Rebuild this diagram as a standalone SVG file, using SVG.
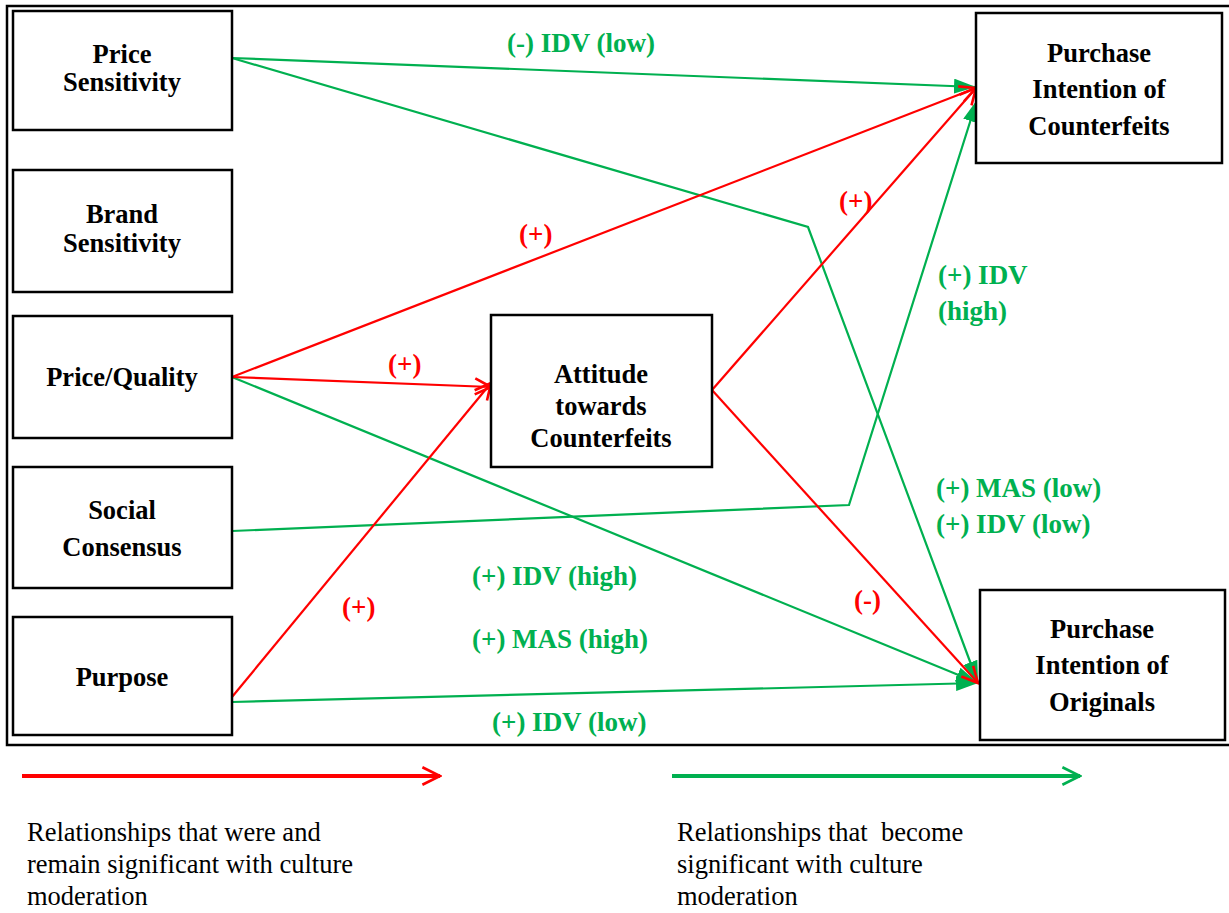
<svg xmlns="http://www.w3.org/2000/svg" width="1229" height="913" viewBox="0 0 1229 913">
<style>
.box{fill:#fff;stroke:#000;stroke-width:2.5}
.nt{font-family:"Liberation Serif","Times New Roman",serif;font-weight:bold;font-size:26.5px;fill:#000;text-anchor:middle}
.g{fill:none;stroke:#00B050;stroke-width:2.2}
.r{fill:none;stroke:#FF0000;stroke-width:2.2}
.gl{font-family:"Liberation Serif","Times New Roman",serif;font-weight:bold;font-size:27px;fill:#00B050}
.rl{font-family:"Liberation Serif","Times New Roman",serif;font-weight:bold;font-size:27px;fill:#FF0000}
.lg{font-family:"Liberation Serif","Times New Roman",serif;font-size:26.5px;fill:#000;white-space:pre}
</style>
<defs>
<marker id="ag" viewBox="0 0 22 15" refX="22" refY="7.5" markerWidth="22" markerHeight="15" markerUnits="userSpaceOnUse" orient="auto">
<path d="M0,0 L22,7.5 L0,15 z" fill="#00B050"/>
</marker>
<marker id="ar" viewBox="0 0 10 10" refX="9" refY="5" markerWidth="20" markerHeight="20" markerUnits="userSpaceOnUse" orient="auto">
<path d="M1,1 L9,5 L1,9" fill="none" stroke="#FF0000" stroke-width="1.3"/>
</marker>
<marker id="al" viewBox="0 0 10 10" refX="9" refY="5" markerWidth="22" markerHeight="22" markerUnits="userSpaceOnUse" orient="auto">
<path d="M1,1 L9,5 L1,9" fill="none" stroke="#FF0000" stroke-width="1.2"/>
</marker>
<marker id="alg" viewBox="0 0 10 10" refX="9" refY="5" markerWidth="22" markerHeight="22" markerUnits="userSpaceOnUse" orient="auto">
<path d="M1,1 L9,5 L1,9" fill="none" stroke="#00B050" stroke-width="1.2"/>
</marker>
</defs>
<rect x="7" y="6" width="1230" height="739" fill="#fff" stroke="#000" stroke-width="2.5"/>
<g id="connectors">
<polyline class="g" points="232,58 976,87" marker-end="url(#ag)"/>
<polyline class="g" points="232,58 808,227 978,683" marker-end="url(#ag)"/>
<polyline class="g" points="232,377 978,683" marker-end="url(#ag)"/>
<polyline class="g" points="232,531 849,505 977,100" marker-end="url(#ag)"/>
<polyline class="g" points="232,702 978,683" marker-end="url(#ag)"/>
<polyline class="r" points="232,377 976,88" marker-end="url(#ar)"/>
<polyline class="r" points="232,377 491,387" marker-end="url(#ar)"/>
<polyline class="r" points="232,697 491,383" marker-end="url(#ar)"/>
<polyline class="r" points="712,390 976,88" marker-end="url(#ar)"/>
<polyline class="r" points="712,390 978,683" marker-end="url(#ar)"/>
</g>
<g id="price-sensitivity"><rect class="box" x="13" y="11" width="219" height="119"/><text class="nt" x="122" y="63">Price</text><text class="nt" x="122" y="91">Sensitivity</text></g>
<g id="brand-sensitivity"><rect class="box" x="13" y="170" width="219" height="122"/><text class="nt" x="122" y="223">Brand</text><text class="nt" x="122" y="252">Sensitivity</text></g>
<g id="price-quality"><rect class="box" x="13" y="316" width="219" height="122"/><text class="nt" x="122" y="386">Price/Quality</text></g>
<g id="social-consensus"><rect class="box" x="13" y="467" width="219" height="121"/><text class="nt" x="122" y="519">Social</text><text class="nt" x="122" y="556">Consensus</text></g>
<g id="purpose"><rect class="box" x="13" y="617" width="219" height="118"/><text class="nt" x="122" y="686">Purpose</text></g>
<g id="attitude"><rect class="box" x="491" y="315" width="221" height="152"/><text class="nt" x="601" y="383">Attitude</text><text class="nt" x="601" y="415">towards</text><text class="nt" x="601" y="447">Counterfeits</text></g>
<g id="pi-counterfeits"><rect class="box" x="976" y="13" width="246" height="150"/><text class="nt" x="1099" y="62">Purchase</text><text class="nt" x="1099" y="98">Intention of</text><text class="nt" x="1099" y="135">Counterfeits</text></g>
<g id="pi-originals"><rect class="box" x="980" y="590" width="245" height="150"/><text class="nt" x="1102" y="638">Purchase</text><text class="nt" x="1102" y="674">Intention of</text><text class="nt" x="1102" y="711">Originals</text></g>
<g id="labels">
<text class="gl" x="507" y="52">(-) IDV (low)</text>
<text class="rl" x="519" y="243">(+)</text>
<text class="rl" x="388" y="373">(+)</text>
<text class="rl" x="839" y="210">(+)</text>
<text class="gl" x="938" y="284">(+) IDV</text>
<text class="gl" x="938" y="320">(high)</text>
<text class="gl" x="936" y="497">(+) MAS (low)</text>
<text class="gl" x="936" y="533">(+) IDV (low)</text>
<text class="gl" x="472" y="585">(+) IDV (high)</text>
<text class="gl" x="472" y="648">(+) MAS (high)</text>
<text class="rl" x="342" y="616">(+)</text>
<text class="rl" x="854" y="609">(-)</text>
<text class="gl" x="492" y="731">(+) IDV (low)</text>
</g>
<g id="legend">
<line x1="22" y1="776" x2="440" y2="776" stroke="#FF0000" stroke-width="4" marker-end="url(#al)"/>
<line x1="672" y1="776" x2="1080" y2="776" stroke="#00B050" stroke-width="4" marker-end="url(#alg)"/>
<text class="lg" x="27" y="841">Relationships that were and</text>
<text class="lg" x="27" y="873">remain significant with culture</text>
<text class="lg" x="27" y="905">moderation</text>
<text class="lg" x="677" y="841">Relationships that  become</text>
<text class="lg" x="677" y="873">significant with culture</text>
<text class="lg" x="677" y="905">moderation</text>
</g>
</svg>
